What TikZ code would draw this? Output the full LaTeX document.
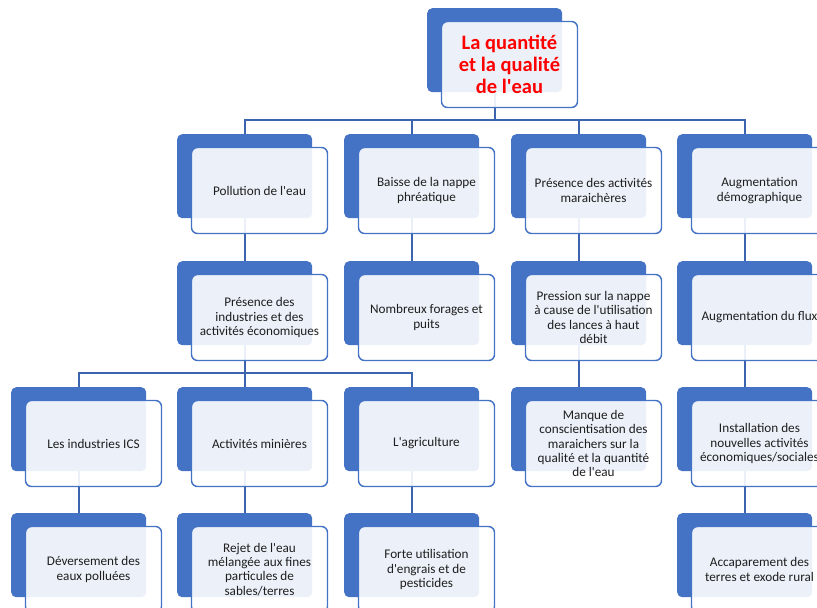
\documentclass[tikz,border=0pt]{standalone}
\usepackage{fontspec}
\setmainfont{Carlito}
\usetikzlibrary{backgrounds}

\definecolor{sablue}{HTML}{4472C4}
\definecolor{linkblue}{HTML}{3C63AE}
\definecolor{txtgray}{HTML}{1E1E1E}
\definecolor{titlered}{HTML}{FF0000}

% straight apostrophe
\newcommand\ap{\textquotesingle}

\tikzset{
  backbox/.style={draw=none, fill=sablue, rounded corners=5pt,
    minimum width=135pt, minimum height=84pt, anchor=north west, inner sep=0pt},
  frontbox/.style={draw=sablue, line width=1.4pt, fill=white, fill opacity=0.9,
    text opacity=1, rounded corners=6pt, minimum width=136pt, minimum height=86pt,
    align=center, inner sep=2pt, text=txtgray,
    font=\fontsize{13.2}{14.3}\selectfont},
  titletext/.style={text=titlered, font=\fontsize{20.5}{22}\selectfont\bfseries},
  conn/.style={draw=linkblue, line width=2pt},
}

% #1 optional style, #2 name, #3 left x, #4 top y of the dark box, #5 text
\newcommand\tierbox[5][]{%
  \node[backbox] (#2b) at (#3,#4) {};
  \node[frontbox,#1] (#2) at (#3+82.5,#4+56.5) {#5};
}

\begin{document}
\begin{tikzpicture}[x=1pt,y=-1pt]
  \useasboundingbox (0,0) rectangle (817,608);
  \clip (0,0) rectangle (817,608);

  % root
  \tierbox[titletext]{root}{427}{8}{La quantité\\et la qualité\\de l\ap eau}

  % first level
  \tierbox{pol}{177}{134}{Pollution de l\ap eau}
  \tierbox{bai}{344}{134}{Baisse de la nappe\\phréatique}
  \tierbox{mar}{511}{134}{Présence des activités\\maraichères}
  \tierbox{dem}{677}{134}{Augmentation\\démographique}

  % second level
  \tierbox{ind}{177}{261}{Présence des\\industries et des\\activités économiques}
  \tierbox{for}{344}{261}{Nombreux forages et\\puits}
  \tierbox{pre}{511}{261}{Pression sur la nappe\\à cause de l\ap utilisation\\des lances à haut\\débit}
  \tierbox{flu}{677}{261}{Augmentation du flux}

  % third level
  \tierbox{ics}{11}{387}{Les industries ICS}
  \tierbox{min}{177}{387}{Activités minières}
  \tierbox{agr}{344}{387}{L\ap agriculture}
  \tierbox{man}{511}{387}{Manque de\\conscientisation des\\maraichers sur la\\qualité et la quantité\\de l\ap eau}
  \tierbox{ins}{677}{387}{Installation des\\nouvelles activités\\économiques/sociales}

  % fourth level
  \tierbox{dev}{11}{513}{Déversement des\\eaux polluées}
  \tierbox{rej}{177}{513}{Rejet de l\ap eau\\mélangée aux fines\\particules de\\sables/terres}
  \tierbox{eng}{344}{513}{Forte utilisation\\d\ap engrais et de\\pesticides}
  \tierbox{acc}{677}{513}{Accaparement des\\terres et exode rural}

  \begin{pgfonlayer}{background}
    % root to first level
    \foreach \c in {polb,baib,marb,demb}
      \draw[conn] (rootb.south) -- ++(0,-28pt) -| (\c.north);
    % industries to its three children
    \foreach \c in {icsb,minb,agrb}
      \draw[conn] (indb.south) -- ++(0,-28pt) -| (\c.north);
    % straight chains
    \draw[conn] (polb.south) -- (indb.north);
    \draw[conn] (baib.south) -- (forb.north);
    \draw[conn] (marb.south) -- (preb.north);
    \draw[conn] (demb.south) -- (flub.north);
    \draw[conn] (preb.south) -- (manb.north);
    \draw[conn] (flub.south) -- (insb.north);
    \draw[conn] (icsb.south) -- (devb.north);
    \draw[conn] (minb.south) -- (rejb.north);
    \draw[conn] (agrb.south) -- (engb.north);
    \draw[conn] (insb.south) -- (accb.north);
  \end{pgfonlayer}
\end{tikzpicture}
\end{document}
